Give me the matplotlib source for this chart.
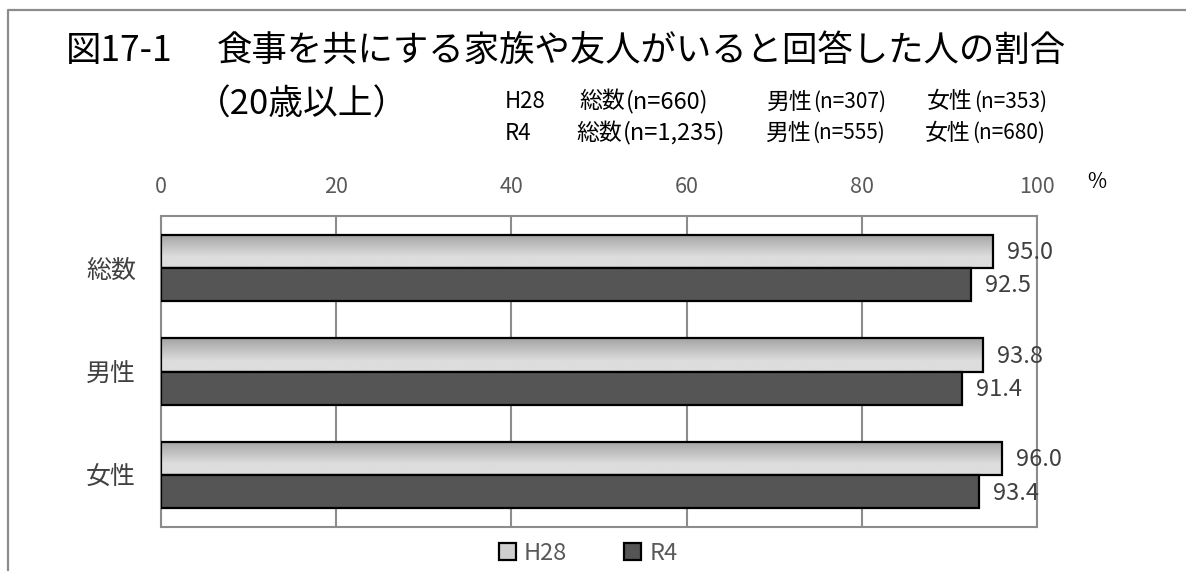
import numpy as np
import matplotlib.pyplot as plt
from matplotlib.patches import Patch
from matplotlib.lines import Line2D

plt.rcParams['font.family'] = ['Noto Sans CJK JP', 'DejaVu Sans']

# データ
categories = ['総数', '男性', '女性']
h28 = [95.0, 93.8, 96.0]
r4 = [92.5, 91.4, 93.4]
series_names = ['H28', 'R4']
xticks = [0, 20, 40, 60, 80, 100]
# 標本数 (年, [(区分, n)])
n_rows = [('H28', [('総数', '(n=660)'), ('男性', '(n=307)'), ('女性', '(n=353)')]),
          ('R4', [('総数', '(n=1,235)'), ('男性', '(n=555)'), ('女性', '(n=680)')])]

W, H = 1186, 571
fig = plt.figure(figsize=(W / 100, H / 100), dpi=100)
ax = fig.add_axes([161 / W, 1 - 527 / H, 876 / W, 311 / H])

y = np.arange(len(categories))
h = 0.32
edge = '#000000'

bars_h28 = ax.barh(y - h / 2, h28, height=h, facecolor='none', edgecolor=edge, linewidth=1.6, zorder=4)
bars_r4 = ax.barh(y + h / 2, r4, height=h, color='#555555', edgecolor=edge, linewidth=1.6, zorder=4)

# H28 のグラデーション（上が濃い）
grad = np.linspace(0, 1, 64).reshape(-1, 1)
grad = np.clip(grad * 1.5, 0, 1)
cmap = plt.matplotlib.colors.LinearSegmentedColormap.from_list('g', ['#a4a4a4', '#dddddd'])
for b in bars_h28:
    x0, y0 = b.get_x(), b.get_y()
    w, hh = b.get_width(), b.get_height()
    im = ax.imshow(grad, cmap=cmap, aspect='auto', origin='upper',
                   extent=(x0, x0 + w, y0 + hh, y0), zorder=3, interpolation='bicubic')
    im.set_clip_path(b)

for b in list(bars_h28) + list(bars_r4):
    ax.annotate('%.1f' % b.get_width(), (b.get_width(), b.get_y() + b.get_height() / 2),
                xytext=(10, -1), textcoords='offset points', ha='left', va='center',
                fontsize=17, color='#404040', zorder=6)

ax.set_xlim(0, 100)
ax.set_ylim(2.5, -0.5)
ax.set_xticks(xticks)
ax.xaxis.tick_top()
ax.tick_params(axis='x', length=0, pad=13, labelsize=15.5, labelcolor='#595959')
ax.set_yticks(y)
ax.set_yticklabels(categories)
ax.tick_params(axis='y', length=0, pad=18, labelsize=18, labelcolor='#404040')
ax.grid(axis='x', color='#8c8c8c', linewidth=1.5, zorder=0)
ax.set_axisbelow(True)
for s in ax.spines.values():
    s.set_color('#8c8c8c')
    s.set_linewidth(1.5)

# 外枠
fig.add_artist(Line2D([8 / W, 8 / W, 1], [0, 1 - 10 / H, 1 - 10 / H],
                      transform=fig.transFigure, color='#8c8c8c', linewidth=1.6))

# タイトル
fig.text(66 / W, 1 - 51 / H, '図17-1', fontsize=25.5, va='center', ha='left')
fig.text(217 / W, 1 - 51 / H, '食事を共にする家族や友人がいると回答した人の割合',
         fontsize=25.5, va='center', ha='left')
fig.text(196 / W, 1 - 105 / H, '（20歳以上）', fontsize=25, va='center', ha='left')

# 標本数
row_y = [102, 133]
kanji_x = [[579, 766, 927], [576, 765, 925]]
for r, (yr, parts) in enumerate(n_rows):
    yy = 1 - row_y[r] / H
    fig.text(505 / W, yy, yr, fontsize=16, va='center', ha='left')
    for k, (lab, n) in enumerate(parts):
        t = fig.text(kanji_x[r][k] / W, yy, lab, fontsize=16.5, va='center', ha='left')
        ax.annotate(n, xy=(1, 0.5), xycoords=t, xytext=(1, 0), textcoords='offset points',
                    fontsize=17 if k == 0 else 15, va='center', ha='left', annotation_clip=False)

fig.text(1087 / W, 1 - 182 / H, '%', fontsize=15, va='center')

handles = [Patch(facecolor='#cfcfcf', edgecolor=edge, linewidth=1.6),
           Patch(facecolor='#555555', edgecolor=edge, linewidth=1.6)]
leg = fig.legend(handles, series_names, loc='center', bbox_to_anchor=(588 / W, 1 - 553 / H),
                 ncol=2, frameon=False, handlelength=0.72, handleheight=0.72, handletextpad=0.35,
                 columnspacing=2.4, fontsize=17, labelcolor='#595959', borderpad=0)

fig.savefig('out.png', dpi=100)
